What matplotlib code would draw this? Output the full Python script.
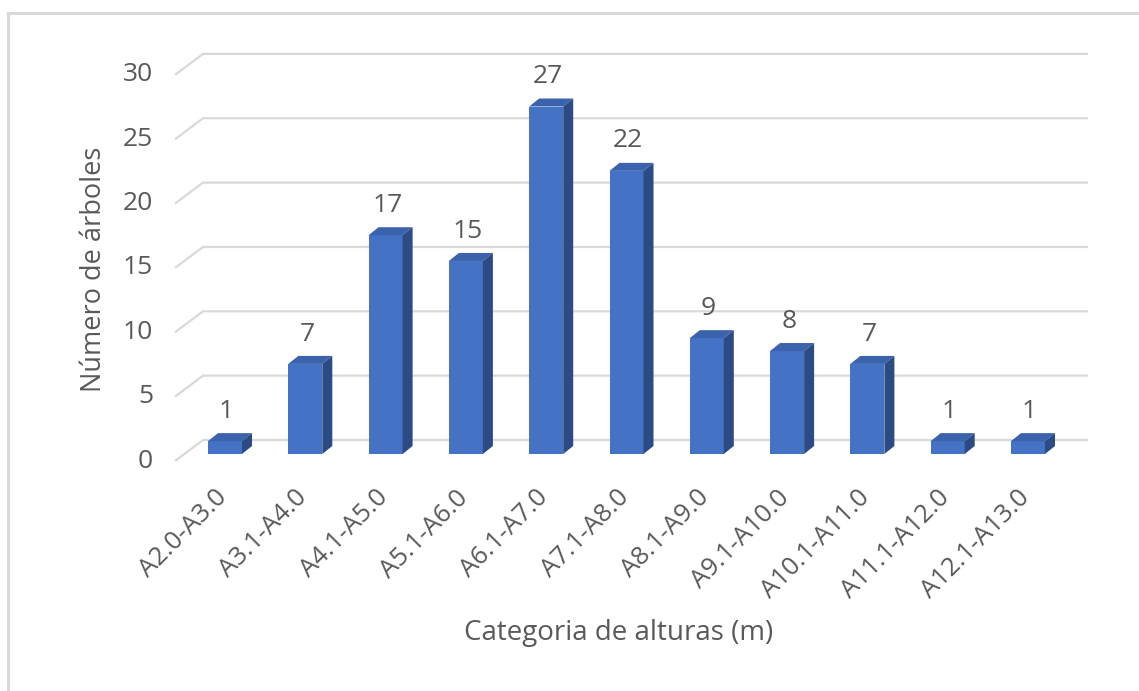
import numpy as np
import matplotlib.pyplot as plt
from matplotlib.patches import Polygon
from matplotlib.lines import Line2D

plt.rcParams['font.family'] = ['Open Sans', 'DejaVu Sans']

categorias = ['A2.0-A3.0', 'A3.1-A4.0', 'A4.1-A5.0', 'A5.1-A6.0', 'A6.1-A7.0',
              'A7.1-A8.0', 'A8.1-A9.0', 'A9.1-A10.0', 'A10.1-A11.0',
              'A11.1-A12.0', 'A12.1-A13.0']
arboles = [1, 7, 17, 15, 27, 22, 9, 8, 7, 1, 1]
yticks = [0, 5, 10, 15, 20, 25, 30]

gris = '#595959'
c_grid = '#d9d9d9'
c_front = '#4472C4'
c_top = '#3A62AD'
c_side = '#2C4B84'

W, H = 1139, 691
fig = plt.figure(figsize=(W / 100, H / 100), dpi=100)

# pixel geometry of the pseudo-3D box
px_cat = 80.3      # px per category
px_val = 12.87     # px per unit
x0_px, y0_px = 225, 454   # centre of first bar, baseline of bars
left_px, right_px, top_px, bot_px = 160, 1100, 40, 470
ax = fig.add_axes([left_px / W, 1 - bot_px / H, (right_px - left_px) / W, (bot_px - top_px) / H])
ax.set_xlim((left_px - x0_px) / px_cat, (right_px - x0_px) / px_cat)
ax.set_ylim((y0_px - bot_px) / px_val, (y0_px - top_px) / px_val)
ax.axis('off')

# gridlines: diagonal floor edge + horizontal back wall
g_front_x = (175 - x0_px) / px_cat
g_back_x = (203 - x0_px) / px_cat
g_right_x = (1088 - x0_px) / px_cat
g_front_dy = -7 / px_val
g_back_dy = 14 / px_val
for v in yticks:
    ax.plot([g_front_x, g_back_x, g_right_x], [v + g_front_dy, v + g_back_dy, v + g_back_dy],
            color=c_grid, lw=1.6, zorder=1, solid_capstyle='butt')
    ax.text((153 - x0_px) / px_cat, v + g_front_dy, str(v), ha='right', va='center',
            fontsize=19, color=gris)

# bars with depth
w = 34 / px_cat
dx = 10 / px_cat
dy = 8 / px_val
x = np.arange(len(arboles))
ax.bar(x, arboles, width=w, color=c_front, zorder=3)
for i, v in zip(x, arboles):
    xl, xr = i - w / 2, i + w / 2
    ax.add_patch(Polygon([[xl, v], [xl + dx, v + dy], [xr + dx, v + dy], [xr, v]],
                         closed=True, color=c_top, lw=0, zorder=3))
    ax.add_patch(Polygon([[xr, 0], [xr + dx, dy], [xr + dx, v + dy], [xr, v]],
                         closed=True, color=c_side, lw=0, zorder=3))
    ax.text(i + 0.02, v + dy + 1.7, str(v), ha='center', va='center', fontsize=19, color=gris)
    ax.text(i - 0.02, (y0_px - 494) / px_val, categorias[i], rotation=45, rotation_mode='anchor',
            ha='right', va='center', fontsize=18.5, color=gris)

fig.text(619 / W, 1 - 633 / H, 'Categoria de alturas (m)', ha='center', va='center',
         fontsize=20, color=gris)
fig.text(94 / W, 1 - 269 / H, 'Número de árboles', ha='center', va='center',
         rotation=90, fontsize=19.5, color=gris)

# chart frame (runs off the right and bottom edges)
fig.add_artist(Line2D([7.5 / W, 1.0], [1 - 13 / H, 1 - 13 / H], color=c_grid, lw=2.2))
fig.add_artist(Line2D([7.5 / W, 7.5 / W], [0.0, 1 - 13 / H], color=c_grid, lw=2.2))

fig.savefig('out.png', dpi=100)
